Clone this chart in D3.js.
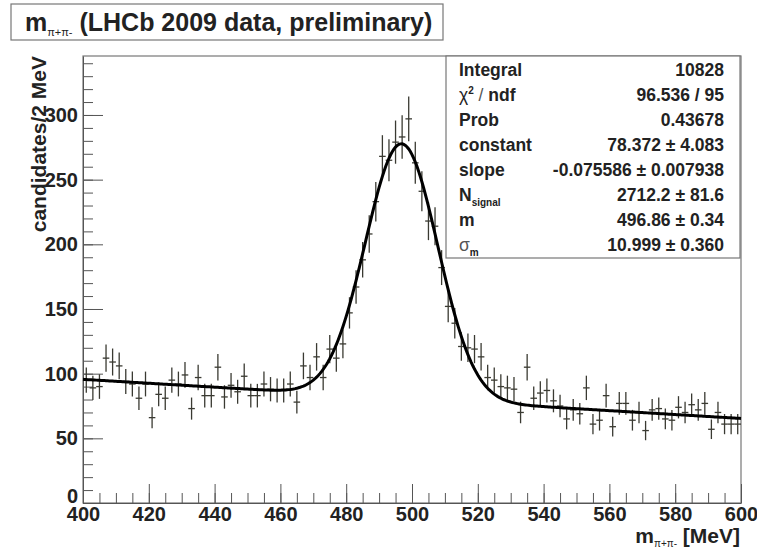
<!DOCTYPE html>
<html>
<head>
<meta charset="utf-8">
<script src="https://cdn.jsdelivr.net/npm/d3@7"></script>
<style>
  body { margin: 0; background: #fff; }
  svg { font-family: "Liberation Sans", Arial, Helvetica, sans-serif; font-weight: bold; }
</style>
</head>
<body>
<div id="chart"></div>
<script>
// histogram: 100 bins of 2 MeV between 400 and 600
const massMin = 400;
const massMax = 600;
const binWidth = 2;
const counts = [
    95, 89, 90, 112, 109, 106, 94, 92, 81, 92,
    66, 84, 81, 95, 92, 99, 73, 97, 83, 83,
    105, 82, 91, 86, 98, 83, 83, 92, 88, 87,
    87, 92, 78, 106, 97, 113, 97, 119, 112, 123,
    147, 167, 188, 208, 233, 268, 265, 279, 283, 297,
    263, 241, 218, 214, 182, 152, 139, 121, 120, 119,
    113, 97, 95, 90, 89, 88, 70, 105, 81, 85,
    87, 79, 75, 65, 72, 69, 89, 61, 64, 83,
    59, 77, 77, 64, 70, 56, 72, 73, 65, 64,
    74, 70, 76, 72, 77, 57, 70, 61, 61, 61
];

// fit result (pol1 background + gaussian)
const fitConstant = 78.372;
const fitSlope = -0.075586;
const fitRefMass = 514;
const fitNSignal = 2712.2;
const fitMean = 496.86;
const fitSigma = 10.999;

// stats box
const statLabels = ["Integral", "χ2 / ndf", "Prob", "constant", "slope", "Nsignal", "m", "σm"];
const statValues = ["10828", "96.536 / 95", "0.43678", "78.372 ± 4.083", "-0.075586 ± 0.007938",
    "2712.2 ± 81.6", "496.86 ± 0.34", "10.999 ± 0.360"];

const xTicks = [400, 420, 440, 460, 480, 500, 520, 540, 560, 580, 600];
const yTicks = [0, 50, 100, 150, 200, 250, 300];

const width = 757;
const height = 549;
const frame = { left: 83, right: 741, top: 56, bottom: 503 };

const svg = d3.select("#chart").append("svg")
    .attr("width", width)
    .attr("height", height);

const x = d3.scaleLinear().domain([massMin, massMax]).range([frame.left, frame.right]);
const y = d3.scaleLinear().domain([0, 345.6]).range([frame.bottom, frame.top]);

// frame
svg.append("rect")
    .attr("x", frame.left).attr("y", frame.top)
    .attr("width", frame.right - frame.left)
    .attr("height", frame.bottom - frame.top)
    .attr("fill", "none")
    .attr("stroke", "#777")
    .attr("stroke-width", 1.2);

// y axis, ticks pointing inside like ROOT
svg.append("g")
    .attr("transform", `translate(${frame.left},0)`)
    .call(d3.axisLeft(y).tickValues(d3.range(0, 341, 10)).tickSize(-10).tickSizeOuter(0).tickFormat(""))
    .call(g => g.select(".domain").remove())
    .selectAll(".tick line").attr("stroke", "#555");

const yAxis = svg.append("g")
    .attr("transform", `translate(${frame.left},0)`)
    .call(d3.axisLeft(y).tickValues(yTicks).tickSize(-20).tickSizeOuter(0).tickPadding(5))
    .call(g => g.select(".domain").attr("stroke", "#555"));
yAxis.selectAll("text")
    .attr("font-size", 20)
    .attr("font-family", null)
    .attr("fill", "#222")
    .attr("dy", d => d === 0 ? "-0.05em" : "0.32em");
yAxis.selectAll(".tick line").attr("stroke", "#555");

// x axis
svg.append("g")
    .attr("transform", `translate(0,${frame.bottom})`)
    .call(d3.axisBottom(x).tickValues(d3.range(400, 601, 5)).tickSize(-10).tickSizeOuter(0).tickFormat(""))
    .call(g => g.select(".domain").remove())
    .selectAll(".tick line").attr("stroke", "#555");

const xAxis = svg.append("g")
    .attr("transform", `translate(0,${frame.bottom})`)
    .call(d3.axisBottom(x).tickValues(xTicks).tickSize(-19).tickSizeOuter(0).tickPadding(4))
    .call(g => g.select(".domain").attr("stroke", "#555"));
xAxis.selectAll("text")
    .attr("font-size", 20)
    .attr("font-family", null)
    .attr("fill", "#222");
xAxis.selectAll(".tick line").attr("stroke", "#555");

// data points with error bars
const bins = counts.map((c, i) => ({
    lo: massMin + i * binWidth,
    hi: massMin + (i + 1) * binWidth,
    mid: massMin + (i + 0.5) * binWidth,
    n: c,
    err: Math.sqrt(c)
}));

const pts = svg.append("g")
    .attr("stroke", "#3a3a32")
    .attr("stroke-width", 1.3);

pts.selectAll(".ev").data(bins).enter().append("line")
    .attr("x1", d => x(d.mid)).attr("x2", d => x(d.mid))
    .attr("y1", d => y(d.n - d.err)).attr("y2", d => y(d.n + d.err));

pts.selectAll(".eh").data(bins).enter().append("line")
    .attr("x1", d => x(d.lo)).attr("x2", d => x(d.hi))
    .attr("y1", d => y(d.n)).attr("y2", d => y(d.n));

// fit curve
function fitFunc(m) {
    const bg = fitConstant + binWidth * fitSlope * (m - fitRefMass);
    const sig = fitNSignal * binWidth / (fitSigma * Math.sqrt(2 * Math.PI)) *
        Math.exp(-0.5 * Math.pow((m - fitMean) / fitSigma, 2));
    return bg + sig;
}

const line = d3.line()
    .x(d => x(d))
    .y(d => y(fitFunc(d)));

svg.append("path")
    .datum(d3.range(massMin, massMax + 0.01, 0.5))
    .attr("d", line)
    .attr("fill", "none")
    .attr("stroke", "#000")
    .attr("stroke-width", 3);

// stats box
const box = { left: 446, right: 740, top: 56, bottom: 258 };
svg.append("rect")
    .attr("x", box.left).attr("y", box.top)
    .attr("width", box.right - box.left)
    .attr("height", box.bottom - box.top)
    .attr("fill", "#fff")
    .attr("stroke", "#777")
    .attr("stroke-width", 1.2);

const statRows = svg.append("g")
    .attr("font-size", 17.5)
    .attr("fill", "#222");

statLabels.forEach((label, i) => {
    const yy = 76 + i * 25;
    const t = statRows.append("text").attr("x", 459).attr("y", yy);
    if (label === "χ2 / ndf") {
        t.append("tspan").attr("font-weight", "normal").text("χ");
        t.append("tspan").attr("font-size", 10).attr("dy", -7).text("2");
        t.append("tspan").attr("dy", 7).attr("font-weight", "normal").attr("fill", "#555").text(" / ");
        t.append("tspan").text("ndf");
    } else if (label === "Nsignal") {
        t.append("tspan").text("N");
        t.append("tspan").attr("font-size", 10).attr("dy", 5).text("signal");
    } else if (label === "σm") {
        t.append("tspan").attr("font-weight", "normal").attr("fill", "#555").text("σ");
        t.append("tspan").attr("font-size", 10).attr("dy", 5).text("m");
    } else {
        t.text(label);
    }
    statRows.append("text")
        .attr("x", 724).attr("y", yy)
        .attr("text-anchor", "end")
        .text(statValues[i]);
});

// title box
svg.append("rect")
    .attr("x", 11).attr("y", 4)
    .attr("width", 432).attr("height", 36)
    .attr("fill", "#fff")
    .attr("stroke", "#777")
    .attr("stroke-width", 1.2);

const title = svg.append("text")
    .attr("x", 25).attr("y", 31)
    .attr("font-size", 25)
    .attr("fill", "#222");
title.append("tspan").text("m");
title.append("tspan").attr("font-size", 11).attr("font-weight", "normal").attr("dy", 5).text("π+π-");
title.append("tspan").attr("dy", -5).text(" (LHCb 2009 data, preliminary)");

// axis titles
svg.append("text")
    .attr("transform", "translate(46,56) rotate(-90)")
    .attr("text-anchor", "end")
    .attr("font-size", 21)
    .attr("fill", "#222")
    .text("candidates/2 MeV");

const xTitle = svg.append("text")
    .attr("x", 740).attr("y", 543)
    .attr("text-anchor", "end")
    .attr("font-size", 21)
    .attr("fill", "#222");
xTitle.append("tspan").text("m");
xTitle.append("tspan").attr("font-size", 10).attr("font-weight", "normal").attr("dy", 4).text("π+π-");
xTitle.append("tspan").attr("dy", -4).text(" [MeV]");
</script>
</body>
</html>
